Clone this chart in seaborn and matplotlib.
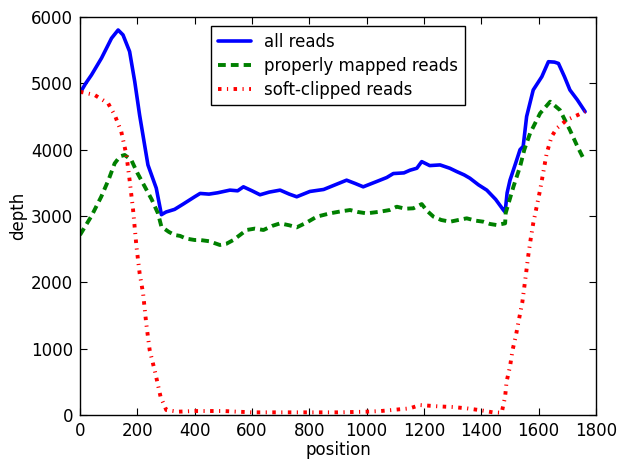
import matplotlib
matplotlib.use("Agg")
import matplotlib.pyplot as plt
import seaborn as sns
import pandas as pd

all_x = [0, 20, 40, 75, 110, 133, 150, 173, 191, 208, 237, 266, 284, 300, 330, 360, 400, 419, 450, 480,
         523, 550, 570, 600, 628, 660, 698, 730, 756, 802, 850, 890, 930, 960, 988, 1035, 1070, 1093,
         1130, 1151, 1175, 1192, 1220, 1256, 1290, 1314, 1340, 1360, 1390, 1419, 1450, 1477, 1483,
         1490, 1500, 1520, 1535, 1546, 1558, 1581, 1611, 1634, 1655, 1669, 1690, 1709, 1735, 1762]
all_y = [4854, 5000, 5126, 5380, 5680, 5804, 5730, 5480, 5025, 4520, 3770, 3420, 3020, 3060, 3100, 3180,
         3290, 3340, 3330, 3350, 3390, 3380, 3440, 3380, 3320, 3360, 3390, 3330, 3290, 3370, 3400, 3470,
         3540, 3490, 3440, 3520, 3580, 3640, 3650, 3690, 3720, 3820, 3760, 3770, 3720, 3670, 3620, 3570,
         3470, 3390, 3250, 3090, 3060, 3350, 3540, 3800, 4000, 4050, 4500, 4900, 5100, 5326, 5320, 5300,
         5100, 4900, 4750, 4573]

prop_x = [0, 40, 74, 100, 121, 140, 156, 179, 200, 226, 250, 272, 284, 310, 330, 349, 370, 400, 419, 450,
          488, 510, 535, 560, 581, 610, 640, 670, 698, 730, 756, 790, 826, 872, 910, 942, 970, 1000, 1047,
          1080, 1105, 1135, 1163, 1192, 1210, 1233, 1260, 1291, 1320, 1349, 1380, 1407, 1430, 1453, 1483,
          1485, 1512, 1535, 1550, 1570, 1605, 1640, 1674, 1709, 1735, 1756]
prop_y = [2714, 3000, 3290, 3550, 3794, 3900, 3920, 3844, 3650, 3442, 3250, 3040, 2839, 2760, 2714, 2700,
          2660, 2638, 2638, 2620, 2563, 2580, 2638, 2720, 2789, 2810, 2789, 2850, 2889, 2860, 2829, 2900,
          2990, 3040, 3070, 3090, 3060, 3040, 3065, 3090, 3140, 3110, 3116, 3180, 3080, 2990, 2940, 2914,
          2940, 2965, 2930, 2914, 2880, 2864, 2889, 3045, 3442, 3743, 4000, 4246, 4548, 4723, 4598, 4296,
          4050, 3869]

soft_x = [0, 51, 98, 121, 144, 162, 173, 185, 197, 208, 220, 231, 243, 263, 281, 301, 342, 400, 500, 600,
          700, 800, 900, 1000, 1050, 1100, 1150, 1186, 1250, 1300, 1350, 1400, 1440, 1471, 1483, 1488,
          1500, 1509, 1521, 1532, 1543, 1555, 1564, 1572, 1581, 1593, 1605, 1628, 1645, 1663, 1698, 1762]
soft_y = [4874, 4824, 4699, 4523, 4271, 3920, 3543, 3100, 2537, 2136, 1835, 1382, 980, 628, 276, 75, 50,
          60, 60, 40, 40, 40, 40, 50, 60, 80, 100, 150, 130, 120, 100, 70, 40, 35, 276, 502, 729, 980,
          1206, 1457, 1700, 2100, 2412, 2648, 2889, 3140, 3392, 3945, 4196, 4322, 4447, 4573]

labels = ["all reads", "properly mapped reads", "soft-clipped reads"]

sns.set_style("ticks")
plt.rcParams.update({
    "font.family": ["DejaVu Sans"],
    "font.size": 12,
    "xtick.direction": "in",
    "ytick.direction": "in",
    "xtick.top": True,
    "ytick.right": True,
    "xtick.major.size": 5,
    "ytick.major.size": 5,
    "axes.edgecolor": "black",
    "axes.linewidth": 1.0,
    "xtick.color": "black",
    "ytick.color": "black",
    "text.color": "black",
    "axes.labelcolor": "black",
})

fig = plt.figure(figsize=(6.18, 4.59), dpi=100)
ax = fig.add_axes([80 / 618, 1 - 415 / 459, 516 / 618, 398 / 459])

df_all = pd.DataFrame({"position": all_x, "depth": all_y})
df_prop = pd.DataFrame({"position": prop_x, "depth": prop_y})
df_soft = pd.DataFrame({"position": soft_x, "depth": soft_y})

sns.lineplot(data=df_all, x="position", y="depth", ax=ax, color=(0, 0, 1), lw=2.6,
             label=labels[0], sort=False, estimator=None)
sns.lineplot(data=df_prop, x="position", y="depth", ax=ax, color=(0, 0.5, 0), lw=2.8,
             linestyle=(0, (2.0, 1.3)), label=labels[1], sort=False, estimator=None)
sns.lineplot(data=df_soft, x="position", y="depth", ax=ax, color=(1, 0, 0), lw=2.8,
             linestyle=(0, (0.9, 1.4, 0.3, 1.4)), label=labels[2], sort=False, estimator=None)

ax.set_xlim(0, 1800)
ax.set_ylim(0, 6000)
ax.set_xticks(range(0, 1801, 200))
ax.set_yticks(range(0, 6001, 1000))
ax.set_xlabel("position", fontsize=12, labelpad=1)
ax.set_ylabel("depth", fontsize=12, labelpad=3)
ax.tick_params(labelsize=12, pad=5)

leg = ax.legend(loc="upper center", frameon=True, fancybox=False, framealpha=1,
                edgecolor="black", fontsize=12, handlelength=2.0, borderaxespad=0.55,
                labelspacing=0.35)
leg.get_frame().set_linewidth(1.0)

fig.savefig("out.png", dpi=100)
